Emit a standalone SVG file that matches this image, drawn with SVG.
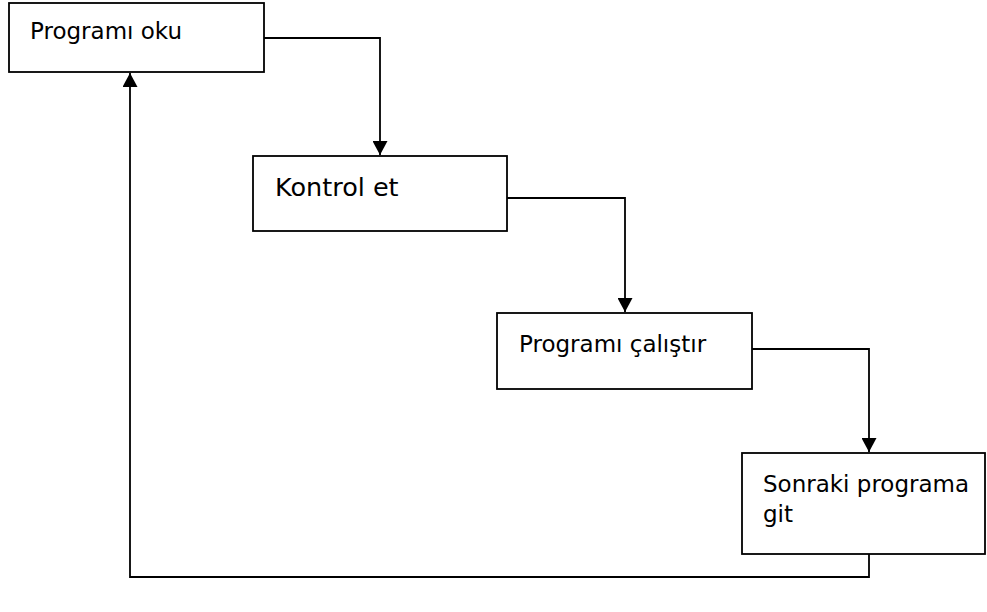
<svg xmlns="http://www.w3.org/2000/svg" width="987" height="612" viewBox="0 0 987 612">
<style>
.box{fill:#fff;stroke:#000;stroke-width:1.8}
.lbl{font-family:"DejaVu Sans","Verdana",sans-serif;font-size:23px;fill:#000}
.big{font-size:25.5px}
.con{fill:none;stroke:#000;stroke-width:1.8}
</style>
<defs>
<marker id="ah" viewBox="0 0 14 15" refX="14" refY="7.5" markerWidth="14" markerHeight="15" markerUnits="userSpaceOnUse" orient="auto">
<path d="M0,0 L14,7.5 L0,15 Z" fill="#000"/>
</marker>
</defs>
<g id="n1"><rect class="box" x="9" y="3" width="255" height="69"/><text class="lbl" x="30" y="39">Programı oku</text></g>
<g id="n2"><rect class="box" x="253" y="156" width="254" height="75"/><text class="lbl big" x="275" y="196">Kontrol et</text></g>
<g id="n3"><rect class="box" x="497" y="313" width="255" height="76"/><text class="lbl" x="519" y="352">Programı çalıştır</text></g>
<g id="n4"><rect class="box" x="742" y="453" width="243" height="101"/><text class="lbl" x="763" y="492">Sonraki programa</text><text class="lbl" x="763" y="522">git</text></g>
<g id="connectors">
<path class="con" d="M264,38 H380 V155" marker-end="url(#ah)"/>
<path class="con" d="M507,198 H625 V312" marker-end="url(#ah)"/>
<path class="con" d="M752,349 H869 V452" marker-end="url(#ah)"/>
<path class="con" d="M869,554 V577 H130 V73" marker-end="url(#ah)"/>
</g>
</svg>
